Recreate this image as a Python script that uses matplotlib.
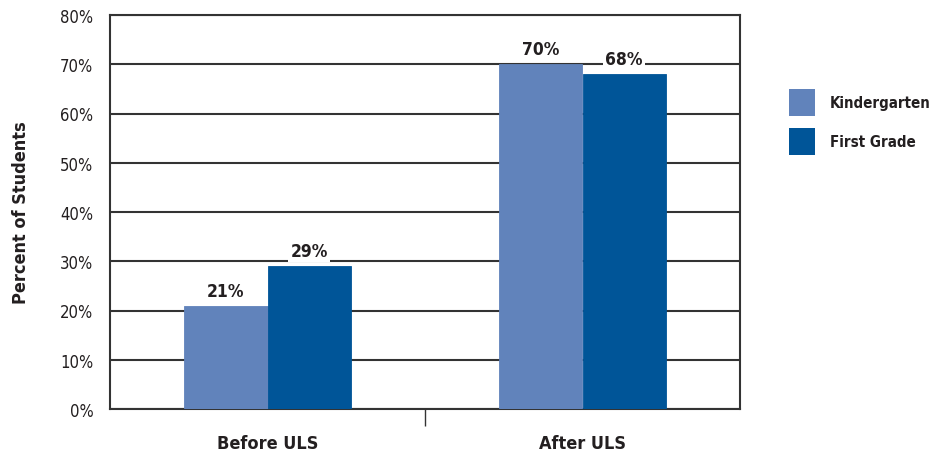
import matplotlib.pyplot as plt
import numpy as np
from matplotlib.patches import Rectangle

plt.rcParams['font.family'] = ['DejaVu Sans']
plt.rcParams['font.stretch'] = 'condensed'

groups = ["Before ULS", "After ULS"]
series = ["Kindergarten", "First Grade"]
kinder = [21, 70]
first = [29, 68]
colors = ["#6183bb", "#005598"]
yticks = [0, 10, 20, 30, 40, 50, 60, 70, 80]

W, H = 931, 456
fig = plt.figure(figsize=(W/100, H/100), dpi=100)
ax = fig.add_axes([110/W, 1 - 410/H, 630/W, 394/H])

x = np.arange(len(groups))
w = 0.264
b1 = ax.bar(x - w/2, kinder, w, color=colors[0], edgecolor=colors[0], linewidth=0.6, zorder=3)
b2 = ax.bar(x + w/2, first, w, color=colors[1], edgecolor=colors[1], linewidth=0.6, zorder=3)

for bars, vals in [(b1, kinder), (b2, first)]:
    for r, v in zip(bars, vals):
        ax.text(r.get_x() + r.get_width()/2, v + 1.2, f"{v}%", ha="center", va="bottom",
                fontsize=12.5, fontweight="bold", color="#231f20", zorder=4,
                bbox=dict(facecolor="white", edgecolor="none", pad=1.5))

ax.set_xlim(-0.5, 1.5)
ax.set_ylim(0, 80)
ax.set_yticks(yticks)
ax.set_yticklabels([f"{t}%" for t in yticks], fontsize=12, color="#231f20")
ax.yaxis.grid(True, color="#333333", linewidth=1.5, zorder=0)
ax.tick_params(axis="y", length=0, pad=12)

ax.set_xticks(x)
ax.set_xticklabels(groups, fontsize=13, fontweight="bold", color="#231f20")
ax.tick_params(axis="x", which="major", length=0, pad=18)
ax.set_xticks([0.5], minor=True)
ax.tick_params(axis="x", which="minor", length=12, width=1, color="#333333", direction="out")

for s in ax.spines.values():
    s.set_color("#333333")
    s.set_linewidth(1.5)

ax.set_ylabel("Percent of Students", fontsize=13, fontweight="bold", color="#231f20", labelpad=22)

# legend drawn by hand so the swatches get the reference's size
for i, (name, c) in enumerate(zip(series, colors)):
    top = 90 + i * 39
    fig.patches.append(Rectangle((789/W, 1 - (top + 27)/H), 26/W, 27/H,
                                 transform=fig.transFigure, facecolor=c, edgecolor="none"))
    fig.text(830/W, 1 - (top + 13.5)/H, name, ha="left", va="center", fontsize=10.8,
             fontweight="bold", color="#231f20")

fig.savefig("out.png", dpi=100)
